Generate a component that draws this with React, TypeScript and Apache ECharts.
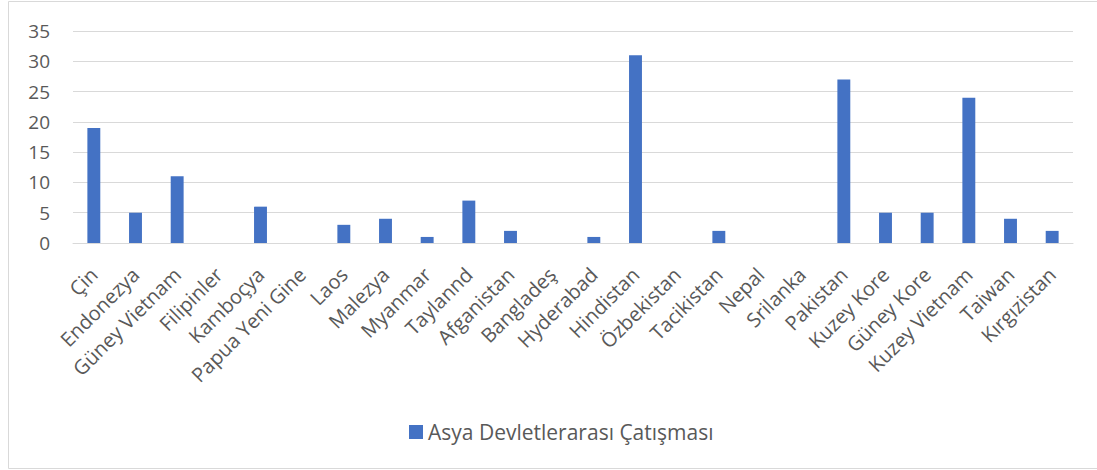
import React, { useEffect, useRef } from "react";
import * as echarts from "echarts";

const categories = [
  "Çin", "Endonezya", "Güney Vietnam", "Filipinler", "Kamboçya", "Papua Yeni Gine",
  "Laos", "Malezya", "Myanmar", "Taylannd", "Afganistan", "Bangladeş", "Hyderabad",
  "Hindistan", "Özbekistan", "Tacikistan", "Nepal", "Srilanka", "Pakistan",
  "Kuzey Kore", "Güney Kore", "Kuzey Vietnam", "Taiwan", "Kırgızistan",
];
const values = [19, 5, 11, 0, 6, 0, 3, 4, 1, 7, 2, 0, 1, 31, 0, 2, 0, 0, 27, 5, 5, 24, 4, 2];
const seriesName = "Asya Devletlerarası Çatışması";
const yMin = 0;
const yMax = 35;
const yStep = 5;

export default function App() {
  const ref = useRef<HTMLDivElement>(null);
  useEffect(() => {
    if (!ref.current) return;
    const chart = echarts.init(ref.current, null, { renderer: "svg" });
    const font = "Open Sans, Noto Sans, sans-serif";
    chart.setOption({
      animation: false,
      backgroundColor: "#ffffff",
      textStyle: { fontFamily: font },
      graphic: [
        {
          type: "rect",
          shape: { x: 8.5, y: 1.5, width: 1100, height: 467 },
          style: { fill: "none", stroke: "#d9d9d9", lineWidth: 1 },
          silent: true,
        },
      ],
      grid: { left: 73, right: 24, top: 31, bottom: 227, containLabel: false },
      legend: {
        data: [seriesName],
        top: 420,
        left: 409,
        padding: 0,
        itemWidth: 14,
        itemHeight: 14,
        itemGap: 6,
        icon: "rect",
        textStyle: { color: "#595959", fontSize: 21, lineHeight: 24, fontFamily: font },
      },
      xAxis: {
        type: "category",
        data: categories,
        axisLine: { show: true, lineStyle: { color: "#d9d9d9", width: 1 } },
        axisTick: { show: false },
        axisLabel: {
          interval: 0,
          rotate: 45,
          color: "#595959",
          fontSize: 20,
          margin: 28,
          fontFamily: font,
        },
      },
      yAxis: {
        type: "value",
        min: yMin,
        max: yMax,
        interval: yStep,
        axisLine: { show: false },
        axisTick: { show: false },
        splitLine: { lineStyle: { color: "#d9d9d9", width: 1 } },
        axisLabel: { color: "#595959", fontSize: 19, margin: 23, fontFamily: font },
      },
      series: [
        {
          name: seriesName,
          type: "bar",
          data: values,
          barWidth: "31%",
          itemStyle: { color: "#4472c4" },
        },
      ],
    });
    return () => chart.dispose();
  }, []);
  return (
    <div
      ref={ref}
      style={{ position: "absolute", left: 0, top: 0, width: 1097, height: 470 }}
    />
  );
}
